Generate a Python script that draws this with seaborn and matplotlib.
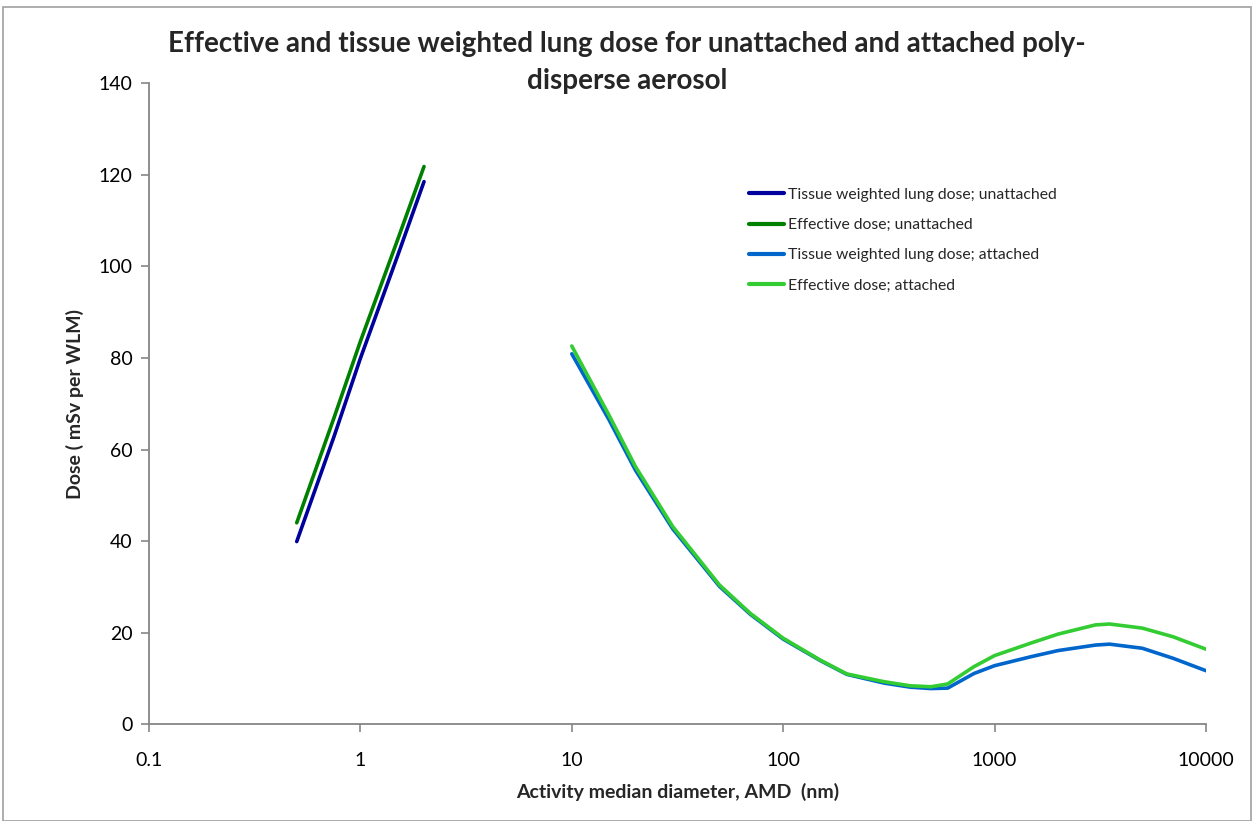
import matplotlib
matplotlib.use("Agg")
import matplotlib.pyplot as plt
import seaborn as sns
import pandas as pd
from matplotlib.patches import Rectangle

# ---- data ----
unatt_x = [0.5, 0.75, 1, 1.5, 2]
tissue_unatt = [39.9, 62.8, 79.9, 102.3, 118.5]
eff_unatt = [44.0, 66.9, 83.6, 105.8, 121.8]

att_x = [10, 15, 20, 30, 50, 70, 100, 150, 200, 300, 400, 500, 600, 800,
         1000, 1500, 2000, 3000, 3500, 5000, 7000, 10000]
tissue_att = [80.9, 66.5, 55.5, 42.7, 30.1, 24.0, 18.6, 13.9, 10.9, 9.0, 8.1,
              7.8, 7.9, 11.1, 12.8, 14.8, 16.1, 17.3, 17.5, 16.6, 14.4, 11.7]
eff_att = [82.6, 67.5, 56.3, 43.2, 30.4, 24.2, 18.8, 14.0, 11.0, 9.3, 8.4,
           8.2, 8.8, 12.6, 15.0, 17.8, 19.7, 21.7, 21.9, 21.0, 19.1, 16.4]

series_names = ["Tissue weighted lung dose; unattached",
                "Effective dose; unattached",
                "Tissue weighted lung dose; attached",
                "Effective dose; attached"]
colors = ["#00009C", "#008000", "#0066CC", "#33CC33"]

x_ticks = [0.1, 1, 10, 100, 1000, 10000]
x_tick_labels = ["0.1", "1", "10", "100", "1000", "10000"]
y_ticks = [0, 20, 40, 60, 80, 100, 120, 140]

rows = []
for name, xs, ys in [(series_names[0], unatt_x, tissue_unatt),
                     (series_names[1], unatt_x, eff_unatt),
                     (series_names[2], att_x, tissue_att),
                     (series_names[3], att_x, eff_att)]:
    for xv, yv in zip(xs, ys):
        rows.append({"AMD": xv, "Dose": yv, "series": name})
df = pd.DataFrame(rows)

sns.set_theme(style="white")
plt.rcParams['font.family'] = ['Lato', 'DejaVu Sans']

fig = plt.figure(figsize=(12.54, 8.21), dpi=100)
ax = fig.add_axes([0.1188, 0.1178, 0.9617 - 0.1188, 0.8987 - 0.1178])

sns.lineplot(data=df, x="AMD", y="Dose", hue="series", hue_order=series_names,
             palette=colors, sort=False, estimator=None, linewidth=2.6,
             ax=ax, legend=True)

ax.set_xscale("log")
ax.set_xlim(0.1, 10000)
ax.set_ylim(0, 140)
ax.set_xticks(x_ticks)
ax.set_xticklabels(x_tick_labels)
ax.minorticks_off()
ax.set_yticks(y_ticks)

gray = "#868686"
for s in ["top", "right"]:
    ax.spines[s].set_visible(False)
for s in ["left", "bottom"]:
    ax.spines[s].set_color(gray)
    ax.spines[s].set_linewidth(1.3)
ax.tick_params(axis="both", which="major", direction="out", length=6,
               width=1.2, color=gray, labelsize=14, labelcolor="black",
               bottom=True, left=True)
ax.tick_params(axis="x", pad=14)
ax.tick_params(axis="y", pad=6)

ax.set_xlabel("Activity median diameter, AMD  (nm)", fontsize=14,
              fontweight="bold", labelpad=10)
ax.set_ylabel("Dose ( mSv per WLM)", fontsize=14, fontweight="bold",
              labelpad=10)

fig.suptitle("Effective and tissue weighted lung dose for unattached and attached poly-\ndisperse aerosol",
             x=0.5, y=0.962, fontsize=20, fontweight="bold", linespacing=1.5)

leg = ax.legend(loc="upper left", bbox_to_anchor=(0.562, 0.847),
                frameon=False, fontsize=11.3, handlelength=2.2,
                handletextpad=0.25, labelspacing=1.05, borderaxespad=0)
for line in leg.get_lines():
    line.set_linewidth(3)

fig.patches.append(Rectangle((3 / 1254, 0.0), 1 - 6 / 1254, 1 - 7 / 821,
                             transform=fig.transFigure, fill=False,
                             edgecolor="#A0A0A0", linewidth=1.2))

fig.savefig("out.png", dpi=100)
